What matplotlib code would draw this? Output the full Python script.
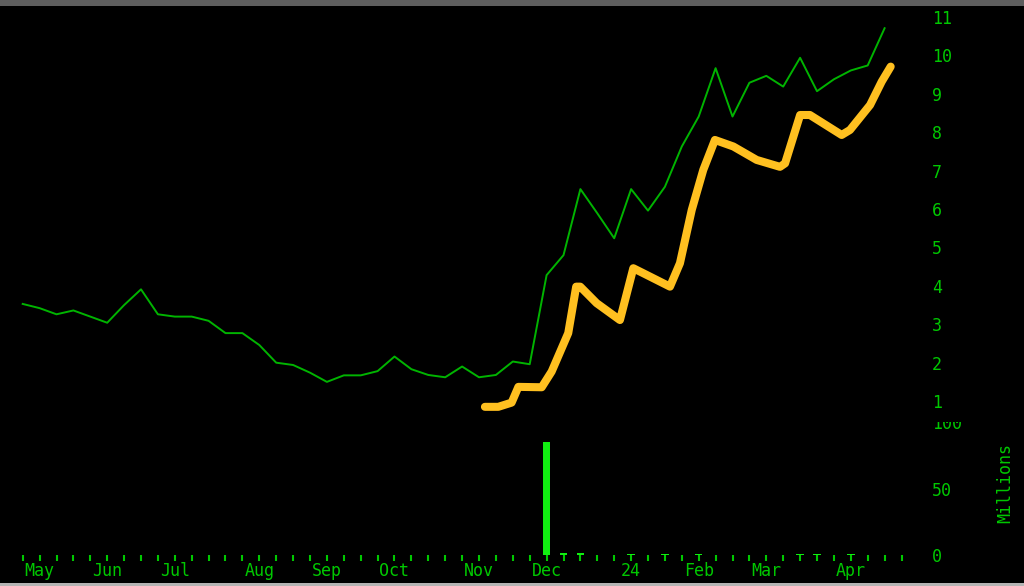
import matplotlib.pyplot as plt
from matplotlib.patches import Rectangle

# weekly closes, week 0 = last week of April
price = [3.58, 3.47, 3.31, 3.41, 3.25, 3.09, 3.55, 3.96, 3.31, 3.25,
         3.25, 3.14, 2.82, 2.82, 2.51, 2.05, 1.99, 1.79, 1.55, 1.72,
         1.72, 1.83, 2.21, 1.88, 1.73, 1.67, 1.95, 1.67, 1.73, 2.08,
         2.01, 4.33, 4.85, 6.57, 5.94, 5.29, 6.57, 6.01, 6.63, 7.68,
         8.46, 9.72, 8.46, 9.34, 9.52, 9.24, 9.99, 9.12, 9.43, 9.66,
         9.79, 10.76]
weeks = list(range(len(price)))

# smoothed overlay (x in weeks)
smooth_x = [27.35, 28.14, 28.93, 29.33, 30.71, 31.30, 32.28, 32.75, 32.99,
            33.96, 35.34, 36.13, 36.72, 38.30, 38.89, 39.59, 40.27, 40.96,
            42.05, 43.43, 44.81, 45.11, 46.0, 46.58, 48.46, 48.95, 50.14,
            50.83, 51.36]
smooth_y = [0.90, 0.90, 1.01, 1.42, 1.41, 1.82, 2.82, 4.03, 4.03,
            3.60, 3.16, 4.51, 4.38, 4.03, 4.64, 6.03, 7.07, 7.85,
            7.68, 7.33, 7.15, 7.24, 8.50, 8.50, 7.98, 8.11, 8.76,
            9.37, 9.76]

# volume in millions
vol_weeks = [31, 32, 33, 36, 38, 40, 46, 47, 49]
vol = [85, 1.6, 1.6, 0.8, 0.8, 0.8, 0.8, 0.8, 0.8]

month_weeks = [1, 5, 9, 14, 18, 22, 27, 31, 36, 40, 44, 49]
month_labels = ["May", "Jun", "Jul", "Aug", "Sep", "Oct", "Nov", "Dec",
                "24", "Feb", "Mar", "Apr"]
price_ticks = list(range(1, 12))
n_ticks = 53

GREEN_TXT = "#00c800"
GREEN_LINE = "#00b400"
GREEN_BAR = "#11ee11"
ORANGE = "#ffc020"

plt.rcParams["font.family"] = "DejaVu Sans Mono"
plt.rcParams["font.size"] = 12

W, H = 1024, 586
fig = plt.figure(figsize=(W / 100, H / 100), dpi=100, facecolor="black")

xlim = (-22.7 / 16.9, (925 - 22.7) / 16.9)
split = 422  # pixel row where price panel ends

# volume panel (drawn first, price panel covers its top)
axv = fig.add_axes([0, (H - 555) / H, 925 / W, (555 - split) / H], zorder=1)
axv.set_facecolor("black")
axv.bar(vol_weeks, vol, width=0.44, color=GREEN_BAR)
axv.set_xlim(*xlim)
axv.set_ylim(0, (555 - split) / 1.335)
axv.yaxis.tick_right()
axv.set_yticks([0, 50, 100])
axv.tick_params(axis="y", length=0, pad=5, colors=GREEN_TXT)
axv.set_xticks(range(n_ticks))
lbl = [""] * n_ticks
for w, m in zip(month_weeks, month_labels):
    lbl[w] = m
axv.set_xticklabels(lbl)
axv.tick_params(axis="x", length=4, width=1.5, color=GREEN_TXT,
                labelcolor=GREEN_TXT, pad=1)
for s in axv.spines.values():
    s.set_visible(False)
fig.text(1005 / W, 1 - 483 / H, "Millions", rotation=90, color=GREEN_TXT,
         ha="center", va="center", fontsize=12)

# price panel, full width so it covers the top of the "100" label
ax = fig.add_axes([0, (H - split) / H, 1, (split - 7) / H], zorder=2)
ax.set_facecolor("black")
ax.plot(weeks, price, color=GREEN_LINE, lw=1.4)
ax.plot(smooth_x, smooth_y, color=ORANGE, lw=5.8,
        solid_capstyle="round", solid_joinstyle="round")
ax.set_xlim(xlim[0], xlim[0] + (xlim[1] - xlim[0]) * W / 925)
ax.set_ylim(1 + (403 - split) / 38.4, 1 + (403 - 7) / 38.4)
ax.set_yticks([])
ax.set_xticks([])
for v in price_ticks:
    ax.text(932 / W, v, str(v), transform=ax.get_yaxis_transform(),
            color=GREEN_TXT, ha="left", va="center")
for s in ax.spines.values():
    s.set_visible(False)

# window frame bands
fig.patches.append(Rectangle((0, (H - 6) / H), 1, 6 / H, transform=fig.transFigure,
                             facecolor="#5e5e5e", edgecolor="none", zorder=5))
fig.patches.append(Rectangle((0, 0), 1, 3 / H, transform=fig.transFigure,
                             facecolor="#b4b4b4", edgecolor="none", zorder=5))

fig.savefig("out.png", dpi=100, facecolor="black")
